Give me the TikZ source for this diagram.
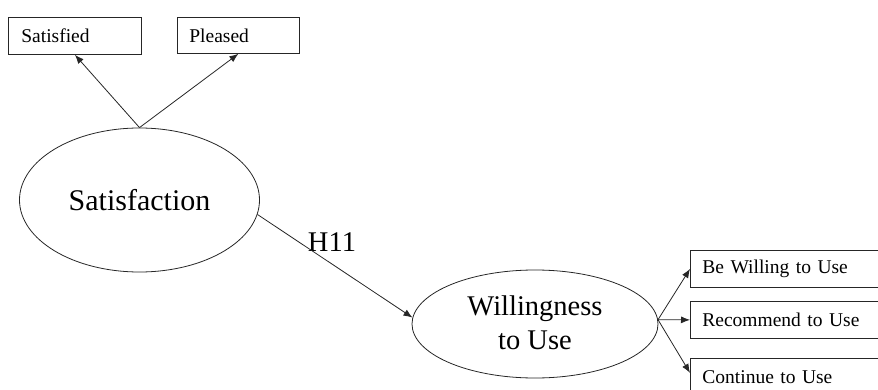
\documentclass[tikz,border=0pt]{standalone}
\usepackage{fontspec}
\setmainfont{Liberation Serif}
\usetikzlibrary{shapes.geometric,arrows.meta}
\begin{document}
\begin{tikzpicture}[x=1pt,y=-1pt,
  latent/.style={ellipse,draw=black!85,line width=0.8pt,inner sep=0pt,
    font=\fontsize{28.5}{34}\selectfont,align=center},
  item/.style={rectangle,draw=black!85,line width=0.8pt,anchor=north west,
    inner xsep=12pt,inner ysep=0pt,minimum height=37pt,
    font=\fontsize{19.5}{23}\selectfont,align=left},
  link/.style={draw=black!85,line width=0.8pt,-{Latex[length=9pt,width=7pt]}}]
\clip (0,0) rectangle (878,390);
\useasboundingbox (0,0) rectangle (878,390);

% latent constructs
\node[latent,minimum width=240pt,minimum height=144pt,
  font=\fontsize{30}{36}\selectfont] (sat) at (139.5,200) {Satisfaction};
\node[latent,minimum width=246pt,minimum height=108pt] (will) at (535,324)
  {\raisebox{3pt}{Willingness}\\\raisebox{3pt}{to Use}};

% indicators of Satisfaction
\node[item,text width=107pt,inner xsep=13pt] (satisfied) at (8,17) {Satisfied};
\node[item,text width=98pt,minimum height=36pt] (pleased) at (177,17) {Pleased};

% indicators of Willingness to Use
\node[item,text width=196pt] (bw) at (690,250) {Be Willing to Use};
\node[item,text width=196pt] (rec) at (690,301) {Recommend to Use};
\node[item,text width=196pt] (cont) at (690,358) {Continue to Use};

% path label
\node[font=\fontsize{28.5}{34}\selectfont,inner sep=0pt] (h11) at (332,242) {H11};

% connectors
\draw[link] (sat.north) -- (satisfied.south);
\draw[link] (sat.north) -- (pleased.south);
\draw[link] (sat.-7) -- (will.177);
\draw[link] (will.2) -- (bw.west);
\draw[link] (will.2) -- (rec.west);
\draw[link] (will.2) -- ([yshift=4pt]cont.west);
\end{tikzpicture}
\end{document}
